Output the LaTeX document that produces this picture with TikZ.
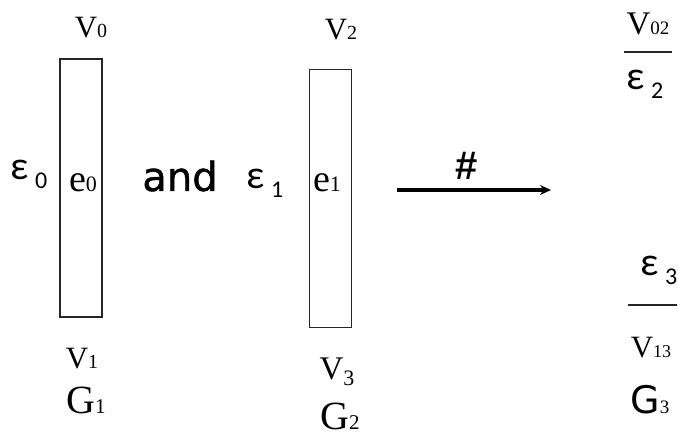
\documentclass[tikz,border=0pt]{standalone}
\usepackage{fontspec}
\setmainfont{Liberation Serif}
\newfontfamily\carl{Carlito}
\newfontfamily\dvs{DejaVu Sans}
\newfontfamily\dvsb[FakeBold=1.2]{DejaVu Sans}
\newfontfamily\lsans{Liberation Sans}
\usetikzlibrary{arrows.meta}
\newcommand\fs[1]{\fontsize{#1}{#1}\selectfont}
\newcommand\Vlab[1]{{\fs{31}V}{\fs{20}#1}}
\newcommand\Elab[1]{{\carl\fs{40}ε}\hspace{6pt}\raisebox{-9pt}{\carl\fs{24}#1}}
\begin{document}
\begin{tikzpicture}[x=1pt,y=-1pt,
  lbl/.style={inner sep=0pt, anchor=center},
  edgebox/.style={draw=black!85, line width=1.4pt, minimum width=42pt, minimum height=258pt, inner sep=0pt},
  fracline/.style={line width=1.6pt, draw=black!85},
  arrowline/.style={line width=3.2pt, -{Stealth[length=11pt,width=10pt]}}]
\useasboundingbox (0,0) rectangle (678,438);
% first graph
\node[edgebox] (r1) at (81,188) {};
\node[lbl] (e0) at (83,183) {{\fs{38}e}{\fs{22}0}};
\node[lbl] (v0) at (91,28) {\Vlab{0}};
\node[lbl] (eps0) at (29,174) {\Elab{0}};
\node[lbl] (v1) at (82,359) {\Vlab{1}};
\node[lbl] (g1) at (86,400) {{\fs{40}G}{\fs{21}1}};
\node[lbl] (and) at (180,176) {\dvsb\fs{40}and};
% second graph
\node[edgebox] (r2) at (330.5,198.5) {};
\node[lbl] (e1) at (327,183) {{\fs{38}e}{\fs{22}1}};
\node[lbl] (v2) at (341,30) {\Vlab{2}};
\node[lbl] (eps1) at (265,183) {\Elab{1}};
\node[lbl] (v3) at (337,372) {{\fs{33}V}\raisebox{-6pt}{\fs{22}3}};
\node[lbl] (g2) at (340,416) {{\fs{40}G}{\fs{21}2}};
% arrow
\coordinate (as) at (397,190);
\coordinate (ae) at (551,190);
\draw[arrowline] (as) -- (ae);
\node[lbl] (hash) at (467,166) {\lsans\bfseries\fs{40}\#};
% result
\node[lbl] (v02) at (648,24) {{\fs{33}V}{\fs{19}02}};
\coordinate (l1a) at (624,52);
\coordinate (l1b) at (672,52);
\draw[fracline] (l1a) -- (l1b);
\node[lbl] (eps2) at (645,84) {\Elab{2}};
\node[lbl] (eps3) at (659,270) {\Elab{3}};
\coordinate (l2a) at (628,305);
\coordinate (l2b) at (677,305);
\draw[fracline] (l2a) -- (l2b);
\node[lbl] (v13) at (651,348) {{\fs{31}V}{\fs{18}13}};
\node[lbl] (g3) at (650,400) {{\dvs\fs{38}G}{\fs{19}3}};
\end{tikzpicture}
\end{document}
